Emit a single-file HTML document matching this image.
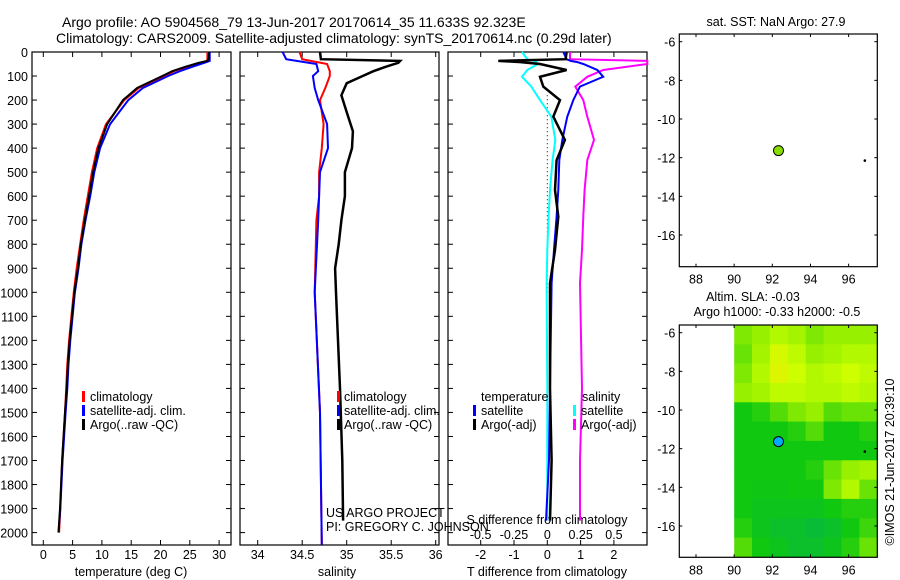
<!DOCTYPE html>
<html><head><meta charset="utf-8"><style>
body{margin:0;background:#fff;}
svg{display:block;font-family:"Liberation Sans",sans-serif;}
</style></head><body>
<svg id="s" width="900" height="580" xmlns="http://www.w3.org/2000/svg"></svg>
<script>
// ---- data ----
const tDepth=[0,30,37,45,61,80,100,150,200,300,400,500,600,700,800,900,1000,1100,1200,1300,1400,1500,1700,1900,2000];
const tArgo=[28.3,28.2,28.0,26.5,24.3,22.0,20.3,16.0,13.6,10.9,9.4,8.5,7.8,7.1,6.4,5.9,5.3,4.9,4.5,4.2,4.0,3.7,3.2,2.85,2.6];
const tClim=[28.0,28.0,27.9,26.8,24.6,22.3,20.6,16.3,13.8,10.7,9.2,8.3,7.6,6.9,6.3,5.7,5.2,4.8,4.4,4.1,3.9,3.7,3.2,2.9,2.7];
const tSat=[28.4,28.4,28.4,27.5,25.5,23.3,21.3,17.0,14.5,11.4,9.7,8.7,8.0,7.2,6.5,6.0,5.4,5.0,4.6,4.3,4.1,3.8,3.3,2.9,2.6];
const sDepth=[0,30,37,45,60,80,100,130,180,250,330,400,500,600,700,800,900,1000,1400,1700,1950];
const sArgo=[34.70,34.71,35.6,35.58,35.45,35.3,35.18,35.0,34.94,35.0,35.07,35.06,34.98,34.98,34.94,34.91,34.87,34.88,34.925,34.95,34.96];
const cDepth=[0,30,50,80,100,150,200,300,400,500,600,700,1000,1500,2050];
const sClim=[34.47,34.5,34.78,34.81,34.81,34.76,34.70,34.74,34.72,34.69,34.69,34.66,34.64,34.70,34.72];
const sSat=[34.28,34.32,34.66,34.68,34.62,34.64,34.68,34.78,34.79,34.70,34.69,34.68,34.64,34.70,34.72];
const dDepth=[0,30,37,42,50,75,103,144,200,269,366,450,574,685,824,962,1400,1700,1950];
const dTArgo=[0.58,0.55,-1.47,-0.8,-0.22,0.58,-0.22,-0.12,0.38,0.18,0.53,0.28,0.23,0.33,0.23,0.08,0.08,0.13,0.08];
const dTSat=[0.48,0.58,0.7,0.9,1.08,1.5,1.68,0.98,0.78,0.6,0.45,0.36,0.33,0.28,0.2,0.13,0.08,0.05,-0.04];
const dSSat=[-0.19,-0.15,-0.1,-0.08,-0.07,-0.15,-0.19,-0.12,-0.055,0.03,0.06,0.04,0.02,0.01,0.0,-0.005,0.0,0.0,0.0];
const dSArgo=[0.17,0.17,0.75,0.75,0.75,0.42,0.3,0.21,0.27,0.3,0.35,0.3,0.28,0.27,0.26,0.245,0.26,0.245,0.245];
const depthTicks=[0,100,200,300,400,500,600,700,800,900,1000,1100,1200,1300,1400,1500,1600,1700,1800,1900,2000];
const tempTicks=[0,5,10,15,20,25,30];
const salTicks=[34,34.5,35,35.5,36];
const tdTicks=[-2,-1,0,1,2];
const sdTicks=[-0.5,-0.25,0,0.25,0.5];
const lonTicks=[88,90,92,94,96];
const latTicks=[-6,-8,-10,-12,-14,-16];
const argoLon=92.323, argoLat=-11.633;
const slaGrid=[
[.55,.6,.7,.65,.55,.6,.6,.6],
[.5,.65,.85,.75,.6,.65,.7,.7],
[.55,.7,.9,.8,.7,.75,.8,.75],
[.6,.65,.75,.75,.7,.7,.75,.7],
[.3,.35,.45,.55,.6,.45,.5,.5],
[.3,.3,.3,.35,.45,.3,.3,.35],
[.3,.3,.3,.3,.3,.3,.3,.3],
[.3,.3,.3,.3,.35,.5,.6,.65],
[.3,.28,.28,.3,.3,.55,.7,.5],
[.3,.25,.25,.25,.25,.3,.35,.35],
[.35,.25,.2,.2,.15,.2,.3,.4],
[.45,.3,.25,.2,.2,.25,.35,.5]];
// ---- scales ----
const S=document.getElementById('s');const NS='http://www.w3.org/2000/svg';
function el(t,a,p){const e=document.createElementNS(NS,t);for(const k in a)e.setAttribute(k,a[k]);(p||S).appendChild(e);return e;}
function txt(x,y,s,anchor,size,p){const e=el('text',{x:x,y:y,'font-size':size||12,'text-anchor':anchor||'start',fill:'#000'},p);e.textContent=s;return e;}
const TOP=52,BOT=545;
const yD=d=>TOP+d*0.2403;
const xT=v=>43.3+v*5.86;
const xS=v=>257.7+(v-34)*89;
const xTD=v=>547.3+v*33.3;
const xSD=v=>547.3+v*133.3;
function line(xs,ys,fx,col,w,name,p){
  const pts=xs.map((v,i)=>fx(v).toFixed(1)+','+yD(ys[i]).toFixed(1)).join(' ');
  const e=el('polyline',{points:pts,fill:'none',stroke:col,'stroke-width':w||2},p);
  
  
}
function panel(x0,x1,name,xt,fx,lab){
  const g=el('g',{});
  
  
  el('rect',{x:x0,y:TOP,width:x1-x0,height:BOT-TOP,fill:'none',stroke:'#000','stroke-width':1.2},g);
  depthTicks.forEach(d=>{el('line',{x1:x0,x2:x0+5,y1:yD(d),y2:yD(d),stroke:'#000'},g);el('line',{x1:x1,x2:x1-5,y1:yD(d),y2:yD(d),stroke:'#000'},g);});
  xt.forEach(v=>{const x=fx(v);el('line',{x1:x,x2:x,y1:TOP,y2:TOP+5,stroke:'#000'},g);el('line',{x1:x,x2:x,y1:BOT,y2:BOT-5,stroke:'#000'},g);
    if(lab)txt(x,559,String(v),'middle',12.5,g);});
  return g;
}
// titles
const t1=txt(62,27,'Argo profile: AO 5904568_79 13-Jun-2017 20170614_35 11.633S 92.323E','start',14);

const t2=txt(56,43,'Climatology: CARS2009. Satellite-adjusted climatology: synTS_20170614.nc (0.29d later)','start',14);

// panel1
const p1=panel(32,231,'temperature-panel',tempTicks,xT,true);
depthTicks.forEach(d=>txt(28,yD(d)+5,String(d),'end',12.5,p1));
txt(131,576,'temperature (deg C)','middle',12.5,p1);
line(tClim,tDepth,xT,'#ff0000',2,'temperature-climatology-line',p1);
line(tSat,tDepth,xT,'#0000ff',2,'temperature-satellite-line',p1);
line(tArgo,tDepth,xT,'#000000',2,'temperature-argo-line',p1);
[['#ff0000','climatology'],['#0000ff','satellite-adj. clim.'],['#000','Argo(..raw -QC)']].forEach((a,i)=>{
  const y=397+i*14;const r=el('rect',{x:82,y:y-6,width:3,height:11,fill:a[0]},p1);
  
  txt(90,y+4,a[1],'start',12.5,p1);});
// panel2
const p2=panel(240,439,'salinity-panel',salTicks,xS,true);
txt(337,576,'salinity','middle',12.5,p2);
line(sClim,cDepth,xS,'#ff0000',2,'salinity-climatology-line',p2);
line(sSat,cDepth,xS,'#0000ff',2,'salinity-satellite-line',p2);
line(sArgo,sDepth,xS,'#000000',2.5,'salinity-argo-line',p2);
[['#ff0000','climatology'],['#0000ff','satellite-adj. clim.'],['#000','Argo(..raw -QC)']].forEach((a,i)=>{
  const y=397+i*14;const r=el('rect',{x:337,y:y-6,width:3,height:11,fill:a[0]},p2);
  
  txt(344,y+4,a[1],'start',12.5,p2);});
txt(326,517,'US ARGO PROJECT','start',12.5,p2);
txt(326,531,'PI: GREGORY C. JOHNSON','start',12.5,p2);
// panel3
const p3=panel(448,647,'difference-panel',tdTicks,xTD,true);
sdTicks.forEach(v=>txt(xSD(v),539,String(v),'middle',12.5,p3));
txt(547,524,'S difference from climatology','middle',12.5,p3);
txt(547,576,'T difference from climatology','middle',12.5,p3);
el('line',{x1:xTD(0),x2:xTD(0),y1:yD(180),y2:yD(1000),stroke:'#000','stroke-width':1,'stroke-dasharray':'1,3'},p3);
line(dSSat,dDepth,xSD,'#00ffff',2,'salinity-diff-satellite-line',p3);
line(dSArgo,dDepth,xSD,'#ff00ff',2,'salinity-diff-argo-line',p3);
line(dTSat,dDepth,xTD,'#0000ff',2,'temperature-diff-satellite-line',p3);
line(dTArgo,dDepth,xTD,'#000000',2.5,'temperature-diff-argo-line',p3);
txt(481,401,'temperature','start',12.5,p3);txt(582,401,'salinity','start',12.5,p3);
[['#0000ff','satellite',473],['#000','Argo(-adj)',473],['#00ffff','satellite',573],['#ff00ff','Argo(-adj)',573]].forEach((a,i)=>{
  const y=411+(i%2)*14;const r=el('rect',{x:a[2],y:y-6,width:3,height:11,fill:a[0]},p3);
  
  txt(a[2]+8,y+4,a[1],'start',12.5,p3);});
// maps
const ML=679.3,MR=877.3;
const xL=l=>696+(l-88)*19.08;
function map(top,bot,name){
  const g=el('g',{});
  
  
  const yl=l=>top+7.7+(-6-l)*19.33;
  return {g,yl,frame:()=>{
    el('rect',{x:ML,y:top,width:MR-ML,height:bot-top,fill:'none',stroke:'#000','stroke-width':1.2},g);
    lonTicks.forEach(l=>{const x=xL(l);el('line',{x1:x,x2:x,y1:top,y2:top+3,stroke:'#000'},g);el('line',{x1:x,x2:x,y1:bot,y2:bot-3,stroke:'#000'},g);txt(x,bot+17,String(l),'middle',12.5,g);});
    latTicks.forEach(l=>{const y=yl(l);el('line',{x1:ML,x2:ML+3,y1:y,y2:y,stroke:'#000'},g);el('line',{x1:MR,x2:MR-3,y1:y,y2:y,stroke:'#000'},g);txt(ML-4,y+5,String(l),'end',12.5,g);});
  }};
}
const m1=map(34,266.7,'sst-map');
m1.frame();
txt(776,26,'sat. SST: NaN Argo: 27.9','middle',12.5,m1.g);
const d1=el('circle',{cx:xL(argoLon),cy:m1.yl(argoLat),r:5,fill:'#88dd00',stroke:'#000'},m1.g);

el('circle',{cx:xL(96.85),cy:m1.yl(-12.15),r:1.3,fill:'#000'},m1.g);
const m2=map(325,557.3,'sla-map');
function col(v){const stops=[[0,[0,176,96]],[0.3,[16,200,16]],[0.6,[150,240,0]],[0.8,[205,255,0]],[1,[235,235,0]]];
  for(let i=1;i<stops.length;i++){if(v<=stops[i][0]){const a=stops[i-1],b=stops[i],t=(v-a[0])/(b[0]-a[0]);return 'rgb('+a[1].map((c,k)=>Math.round(c+(b[1][k]-c)*t)).join(',')+')';}}return 'rgb(235,235,0)';}
const lon0=90,dLon=7.5/8,lat0=-5.6,dLat=1;
slaGrid.forEach((row,r)=>row.forEach((v,c)=>{
  const x0=xL(lon0+c*dLon),x1=Math.min(MR,xL(lon0+(c+1)*dLon));
  const y0=Math.max(325,m2.yl(lat0-r*dLat)),y1=Math.min(557.3,m2.yl(lat0-(r+1)*dLat));
  const cell=el('rect',{x:x0.toFixed(1),y:y0.toFixed(1),width:(x1-x0+0.5).toFixed(1),height:(y1-y0+0.5).toFixed(1),fill:col(v)},m2.g);
  
  
}));
m2.frame();
txt(753,301,'Altim. SLA: -0.03','middle',12.5,m2.g);
txt(777,316,'Argo h1000: -0.33 h2000: -0.5','middle',12.5,m2.g);
const d2=el('circle',{cx:xL(argoLon),cy:m2.yl(argoLat),r:5,fill:'#00aaff',stroke:'#000'},m2.g);

el('circle',{cx:xL(96.85),cy:m2.yl(-12.15),r:1.3,fill:'#000'},m2.g);
const cr=txt(0,0,'©IMOS 21-Jun-2017 20:39:10','middle',12.5);
cr.setAttribute('transform','translate(894,462) rotate(-90)');

</script>
</body></html>
